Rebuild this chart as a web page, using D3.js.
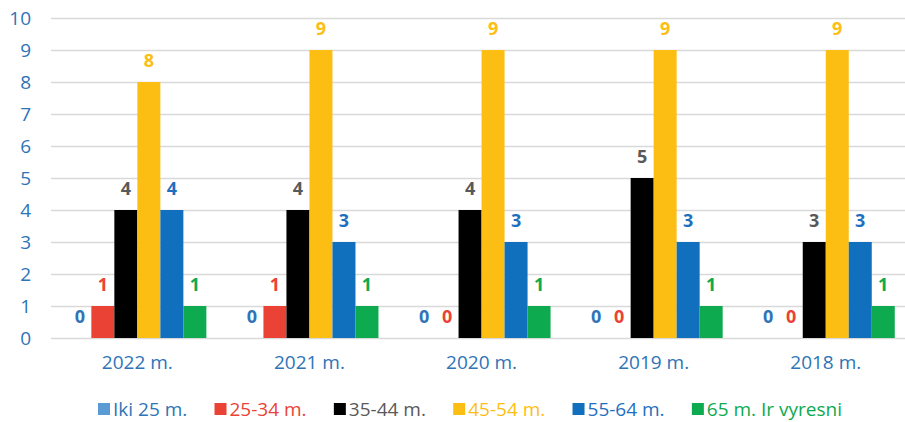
<!DOCTYPE html>
<html><head><meta charset="utf-8">
<script src="https://cdn.jsdelivr.net/npm/d3@7"></script>
<style>body{margin:0;background:#fff}svg{display:block}text{font-family:"Open Sans",sans-serif}</style>
</head><body><svg id="c" width="905" height="422"></svg>
<script>
const categories = ["2022 m.","2021 m.","2020 m.","2019 m.","2018 m."];
const seriesNames = ["Iki 25 m.","25-34 m.","35-44 m.","45-54 m.","55-64 m.","65 m. Ir vyresni"];
const iki25 = [0,0,0,0,0];
const s25_34 = [1,1,0,0,0];
const s35_44 = [4,4,4,5,3];
const s45_54 = [8,9,9,9,9];
const s55_64 = [4,3,3,3,3];
const s65 = [1,1,1,1,1];
const yTicks = [0,1,2,3,4,5,6,7,8,9,10];

const seriesValues = [iki25,s25_34,s35_44,s45_54,s55_64,s65];
const barColors = ["#5B9BD5","#EA4335","#000000","#FDBE14","#1170BE","#0DAA4F"];
const labelColors = ["#2E74B6","#EA4335","#595959","#FDBE14","#1F6FBF","#0DAA4F"];
const legendSquare = ["#5B9BD5","#EA4335","#000000","#FDBE14","#1170BE","#0DAA4F"];
const legendText = ["#2E74B6","#EA4335","#595959","#FDBE14","#1F6FBF","#0DAA4F"];

const svg = d3.select("#c");
const y = d3.scaleLinear().domain([0,10]).range([338,18]);
const x0 = d3.scaleBand().domain(categories).range([51.3,911.8]).paddingInner(0.198).paddingOuter(0.099);
const x1 = d3.scaleBand().domain(d3.range(6)).range([0,x0.bandwidth()]);

// gridlines
svg.append("g").selectAll("line").data(yTicks).join("line")
  .attr("x1",51).attr("x2",912).attr("y1",d=>Math.round(y(d))+0.5).attr("y2",d=>Math.round(y(d))+0.5)
  .attr("stroke","#D9D9D9").attr("stroke-width",1.3);

// y axis labels
const yAxis = d3.axisLeft(y).tickValues(yTicks).tickSize(0).tickPadding(0);
const ga = svg.append("g").attr("transform","translate(31,0)").call(yAxis);
ga.select(".domain").remove();
ga.selectAll("text").attr("fill","#2E74B6").style("font-size","19px").style("font-family","Open Sans").attr("dy","0.35em");

// bars
const groups = svg.append("g").selectAll("g").data(categories).join("g")
  .attr("transform",d=>`translate(${x0(d)},0)`);
groups.each(function(cat,ci){
  const g = d3.select(this);
  const data = seriesValues.map((arr,si)=>({si,v:arr[ci]}));
  g.selectAll("rect").data(data.filter(d=>d.v>0)).join("rect")
    .attr("x",d=>x1(d.si)).attr("width",x1.bandwidth())
    .attr("y",d=>y(d.v)).attr("height",d=>y(0)-y(d.v))
    .attr("fill",d=>barColors[d.si]);
  g.selectAll("text").data(data).join("text")
    .attr("x",d=>x1(d.si)+x1.bandwidth()/2).attr("y",d=>y(d.v)-15)
    .attr("text-anchor","middle").attr("fill",d=>labelColors[d.si])
    .style("font-size","18px").style("font-weight","bold").text(d=>d.v);
});

// x axis labels
const xAxis = d3.axisBottom(x0).tickSize(0).tickPadding(0);
const gx = svg.append("g").attr("transform","translate(0,352)").call(xAxis);
gx.select(".domain").remove();
gx.selectAll("text").attr("fill","#2E74B6").style("font-size","19px").style("font-family","Open Sans").attr("dy","0.9em");

// legend
const leg = svg.append("g");
let items = seriesNames.map((n,i)=>{
  const it = leg.append("g");
  it.append("rect").attr("width",12).attr("height",12).attr("y",-6).attr("fill",legendSquare[i]);
  const t = it.append("text").attr("x",15).attr("y",0).attr("dy","0.35em").attr("fill",legendText[i]).style("font-size","19px").text(n);
  return {it,w:15+t.node().getComputedTextLength()};
});
const startX = 98, endX = 842;
const gap = (endX-startX-d3.sum(items,d=>d.w))/(items.length-1);
let cx = startX;
items.forEach(d=>{d.it.attr("transform",`translate(${cx},409)`);cx+=d.w+gap;});
</script></body></html>
